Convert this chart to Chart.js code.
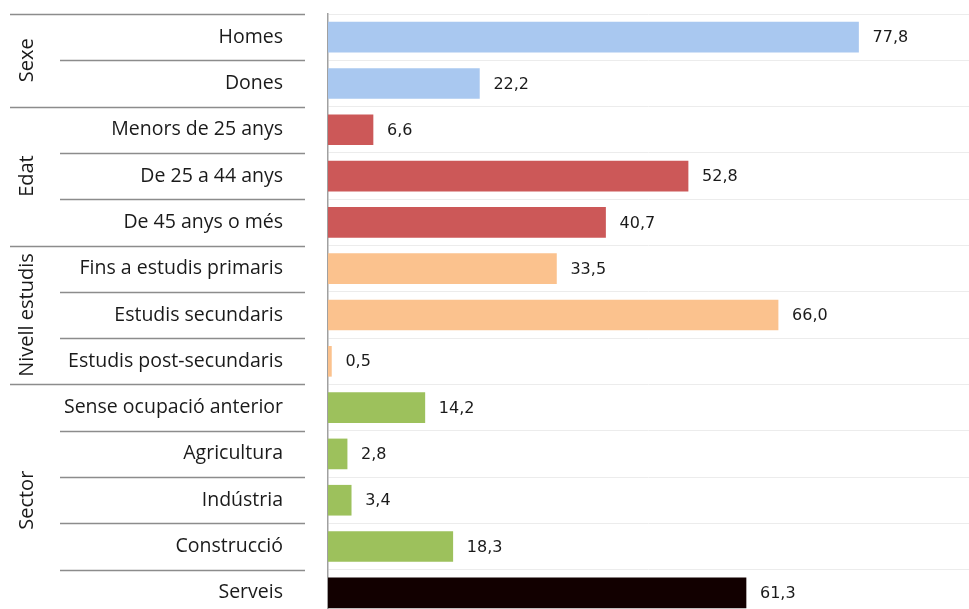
<!DOCTYPE html>
<html>
<head>
<meta charset="utf-8">
<script src="https://cdn.jsdelivr.net/npm/chart.js@4/dist/chart.umd.min.js"></script>
<style>
    html, body { margin: 0; padding: 0; background: #fff; overflow: hidden; }
    canvas { display: block; }
</style>
</head>
<body>
<canvas id="atur" width="969" height="616"></canvas>
<script>
// categories and values
const categories = [
    'Homes', 'Dones',
    'Menors de 25 anys', 'De 25 a 44 anys', 'De 45 anys o més',
    'Fins a estudis primaris', 'Estudis secundaris', 'Estudis post-secundaris',
    'Sense ocupació anterior', 'Agricultura', 'Indústria', 'Construcció', 'Serveis'
];
const values = [77.8, 22.2, 6.6, 52.8, 40.7, 33.5, 66.0, 0.5, 14.2, 2.8, 3.4, 18.3, 61.3];
const groupNames = ['Sexe', 'Edat', 'Nivell estudis', 'Sector'];
const groupSizes = [2, 3, 3, 5];
const groupColors = ['#a9c8f0', '#cc5858', '#fbc28e', '#9dc15c'];
const lastColor = '#120000'; // Serveis

const barColors = [];
groupSizes.forEach((n, g) => { for (let i = 0; i < n; i++) barColors.push(groupColors[g]); });
barColors[barColors.length - 1] = lastColor;

const LABEL_FONT = '"Open Sans", sans-serif';
const VALUE_FONT = '"DejaVu Sans", Verdana, sans-serif';

// value labels at the end of each bar
const valueLabels = {
    id: 'valueLabels',
    afterDatasetsDraw(chart) {
        const ctx = chart.ctx;
        const meta = chart.getDatasetMeta(0);
        ctx.save();
        ctx.font = '16px ' + VALUE_FONT;
        ctx.fillStyle = '#1a1a1a';
        ctx.textAlign = 'left';
        ctx.textBaseline = 'middle';
        meta.data.forEach((bar, i) => {
            ctx.fillText(values[i].toFixed(1).replace('.', ','), bar.x + 14, bar.y + 1);
        });
        ctx.restore();
    }
};

// group separators and rotated group names on the left
const groupLabels = {
    id: 'groupLabels',
    afterDraw(chart) {
        const ctx = chart.ctx;
        const y = chart.scales.y;
        const starts = [0];
        groupSizes.forEach((n, g) => starts.push(starts[g] + n));
        ctx.save();
        ctx.strokeStyle = '#8c8c8c';
        ctx.lineWidth = 1.5;
        for (let i = 0; i <= categories.length; i++) {
            const py = Math.round(y.getPixelForValue(i - 0.5)) + 0.5;
            const isGroup = starts.includes(i);
            ctx.beginPath();
            ctx.moveTo(isGroup ? 10 : 60, py);
            ctx.lineTo(305, py);
            ctx.stroke();
        }
        ctx.fillStyle = '#1a1a1a';
        ctx.font = '20px ' + LABEL_FONT;
        ctx.textAlign = 'center';
        ctx.textBaseline = 'middle';
        groupNames.forEach((name, g) => {
            const top = y.getPixelForValue(starts[g] - 0.5);
            const bottom = y.getPixelForValue(starts[g + 1] - 0.5);
            ctx.save();
            ctx.translate(27, (top + bottom) / 2);
            ctx.rotate(-Math.PI / 2);
            ctx.fillText(name, 0, 0);
            ctx.restore();
        });
        ctx.restore();
    }
};

new Chart(document.getElementById('atur'), {
    type: 'bar',
    data: {
        labels: categories,
        datasets: [{
            data: values,
            backgroundColor: barColors,
            borderWidth: 0,
            barThickness: 30
        }]
    },
    options: {
        indexAxis: 'y',
        responsive: false,
        animation: false,
        layout: { padding: { top: 14, left: 0, right: 0, bottom: 0 } },
        plugins: {
            legend: { display: false },
            tooltip: { enabled: false }
        },
        scales: {
            x: {
                display: false,
                min: 0,
                max: 94
            },
            y: {
                afterFit(scale) {
                    scale.width = 328;
                    scale.paddingTop = 0;
                    scale.paddingBottom = 0;
                },
                grid: { color: '#ececec', drawTicks: false, offset: true },
                border: { display: true, color: '#a0a0a0', width: 1.5 },
                ticks: {
                    color: '#1a1a1a',
                    padding: 45,
                    font: { family: LABEL_FONT, size: 19.5 }
                }
            }
        }
    },
    plugins: [valueLabels, groupLabels]
});
</script>
</body>
</html>
